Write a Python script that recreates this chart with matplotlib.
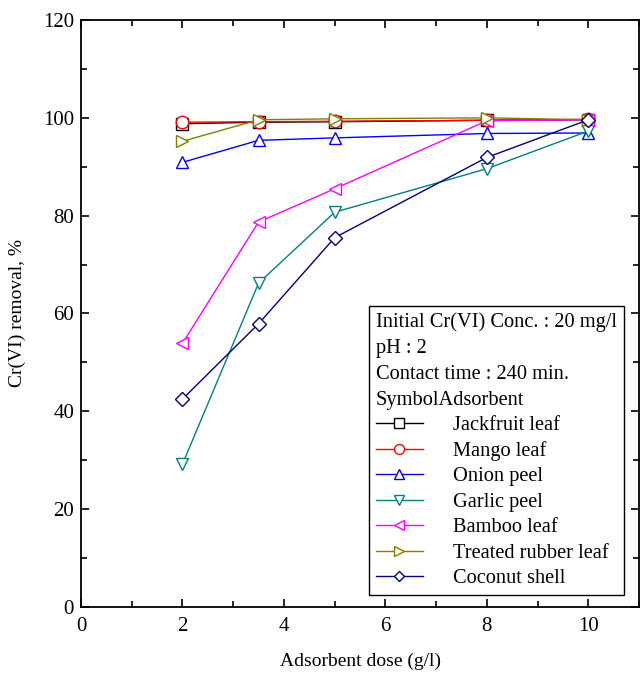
import matplotlib
matplotlib.use("Agg")
import matplotlib.pyplot as plt
from matplotlib.ticker import MultipleLocator

FONTSIZE = 15

plt.rcParams.update({
    "font.family": "serif",
    "font.serif": ["Liberation Serif", "DejaVu Serif"],
    "font.size": FONTSIZE,
    "axes.linewidth": 1.3,
    "xtick.direction": "in",
    "ytick.direction": "in",
    "xtick.top": True,
    "ytick.right": True,
})

# data
dose = [2, 3.5, 5, 8, 10]
jackfruit = [98.8, 99.1, 99.2, 99.5, 99.6]
mango = [99.1, 99.2, 99.3, 99.5, 99.7]
onion = [90.9, 95.4, 95.9, 96.8, 96.9]
garlic = [29.2, 66.2, 80.7, 89.6, 97.3]
bamboo = [53.9, 78.7, 85.5, 99.4, 99.6]
rubber = [95.2, 99.6, 99.8, 100.0, 99.6]
coconut = [42.5, 57.9, 75.5, 91.9, 99.6]

series = [
    ("Jackfruit leaf", jackfruit, "black", "s"),
    ("Mango leaf", mango, "red", "o"),
    ("Onion peel", onion, "blue", "^"),
    ("Garlic peel", garlic, "#008080", "v"),
    ("Bamboo leaf", bamboo, "magenta", "<"),
    ("Treated rubber leaf", rubber, "#808000", ">"),
    ("Coconut shell", coconut, "#000080", "D"),
]

fig = plt.figure(figsize=(6.42, 6.74), dpi=100)
ax = fig.add_axes([81 / 642, 67 / 674, 558 / 642, 587 / 674])

for name, vals, color, marker in series:
    ms = 7 if marker == "D" else 9
    ax.plot(dose, vals, '-', color=color, lw=1.0, marker=marker, ms=ms,
            mfc="white", mec=color, mew=1.0, label=name)

ax.set_xlim(0, 11)
ax.set_ylim(0, 120)
ax.xaxis.set_major_locator(MultipleLocator(2))
ax.xaxis.set_minor_locator(MultipleLocator(1))
ax.yaxis.set_major_locator(MultipleLocator(20))
ax.yaxis.set_minor_locator(MultipleLocator(10))
ax.tick_params(which="major", length=6, width=1.2, labelsize=FONTSIZE, pad=7)
ax.tick_params(which="minor", length=4, width=1.2)
ax.tick_params(axis="y", pad=5)

ax.set_xlabel("Adsorbent dose (g/l)", fontsize=FONTSIZE - 1, labelpad=12)
ax.set_ylabel("Cr(VI) removal, %", fontsize=FONTSIZE - 1, labelpad=12)

title = ("Initial Cr(VI) Conc. : 20 mg/l\npH : 2\n"
         "Contact time : 240 min.\nSymbolAdsorbent")
leg = ax.legend(loc="lower right", bbox_to_anchor=(0.973, 0.02), title=title,
                alignment="left", fontsize=FONTSIZE - 0.3,
                title_fontsize=FONTSIZE - 0.3, fancybox=False, framealpha=1,
                edgecolor="black", handlelength=2.3, handletextpad=1.5,
                labelspacing=0.3, borderpad=0.35, borderaxespad=0,
                markerscale=0.8)
leg.get_frame().set_linewidth(1.0)
leg.get_title().set_linespacing(1.48)

fig.savefig("out.png", dpi=100)
